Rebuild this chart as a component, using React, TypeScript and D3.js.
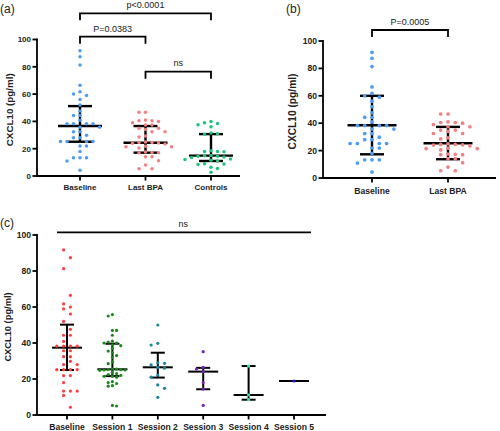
import React from "react";
import * as d3 from "d3";

// ---------- data (CXCL10, pg/ml) ----------
const baselineValues = [91.7, 87.4, 81.3, 66.5, 61.7, 60, 59, 56.1, 52, 47.6, 44.3, 44.3, 40.9, 38.3, 38.3, 38.3, 38.3, 35.7, 35.7, 32.4, 32.4, 29.8, 28, 28, 25.2, 25.2, 25.2, 25.2, 21.9, 21.9, 18, 13.3, 13.3, 13.3, 10.9, 4.3];
const lastBpaValues = [46.7, 46.7, 41, 40.5, 40.5, 40, 39, 37.4, 37.4, 35, 35, 34, 32.5, 32.5, 29.3, 28.5, 25, 24.5, 24.5, 24.2, 24, 23.5, 21.8, 21.5, 21.5, 20.5, 17.5, 17.3, 17, 17, 14.1, 14.1, 11.2, 8, 5.3, 5.3];
const controlsValues = [40, 39, 38.5, 37.5, 36, 31.5, 31, 30.5, 18.5, 18, 18, 17.8, 15, 14.8, 14.5, 14.5, 14, 13.5, 12.5, 12, 11.5, 11, 9, 8.8, 8.5, 6.5, 5.5, 2.8];
const session1Values = [55.8, 55, 47, 47, 44.3, 41, 40.5, 40, 40, 39, 38.5, 37, 35.5, 34.5, 33, 32, 29.5, 28.5, 25.5, 25.5, 25.3, 25.2, 25, 25, 24.8, 23.5, 23, 22.5, 22, 21.5, 21.5, 21, 18.5, 18, 17.5, 16.3, 16, 5.3, 5];
const session2Values = [50, 39.8, 38.9, 29, 28.7, 27.8, 26.5, 26, 22.2, 21, 16.7, 14.8, 9.8];
const session3Values = [35.2, 26.5, 25.5, 24.1, 18, 14.4, 5.3];
const session4Values = [27.2, 11.1, 8.5];
const session5Values = [18.9];

// categories
const catsA = ["Baseline", "Last BPA", "Controls"];
const catsB = ["Baseline", "Last BPA"];
const catsC = ["Baseline", "Session 1", "Session 2", "Session 3", "Session 4", "Session 5"];

// summary statistics
const medianA = [36.6, 24.4, 14.9];
const q1A = [25.1, 17.1, 11];
const q3A = [51.2, 36.6, 30.7];
const meanB = [38.5, 25.4];
const lowerB = [17.3, 13.7];
const upperB = [60, 37.3];
const medianC = [37.4, 25.4, 26.5, 24.1, 11.1, 18.9];
const q1C = [25, 21.6, 20.8, 14.3, 8.5, 18.9];
const q3C = [50.2, 39.6, 34.6, 26.2, 27.2, 18.9];

const yTicks = [0, 20, 40, 60, 80, 100];
const yLabel = "CXCL10 (pg/ml)";

// colours
const colA = ["#4b9cf6", "#f47f80", "#1fc37d"];
const colC = ["#ff3b3b", "#1b8a1b", "#1686a5", "#7d22b8", "#34e6a8", "#1c1ce6"];

const FONT = "'Liberation Sans', Arial, sans-serif";

type Swarm = { v: number; x: number; y: number };

function swarm(values: number[], y: (v: number) => number, dx: number, dy: number, even: boolean): Swarm[] {
  const pts = values.map((v) => ({ v, y: y(v), x: 0, slot: 0 })).sort((a, b) => a.y - b.y);
  const placed: { y: number; slot: number }[] = [];
  const order: number[] = even ? [-0.5, 0.5, -1.5, 1.5, -2.5, 2.5, -3.5, 3.5, -4.5, 4.5] : [0, -1, 1, -2, 2, -3, 3, -4, 4, -5, 5];
  let flip = false;
  for (const p of pts) {
    let chosen = order[order.length - 1];
    for (let i = 0; i < order.length; i++) {
      let s = order[i];
      if (s !== 0 && i % 2 === 1 && flip) s = -s;
      else if (s !== 0 && i % 2 === 0 && flip && even) s = -s;
      const free = placed.every((q) => q.slot !== s || Math.abs(q.y - p.y) >= dy);
      if (free) { chosen = s; break; }
    }
    if (chosen !== 0) flip = !flip;
    placed.push({ y: p.y, slot: chosen });
    p.x = chosen * dx;
  }
  return pts.map((p) => ({ v: p.v, x: p.x, y: p.y }));
}

type PanelProps = {
  cats: string[];
  groups: number[][];
  colors: string[];
  center: number[];
  lo: number[];
  hi: number[];
  xRange: [number, number];
  axisX: [number, number];
  yRange: [number, number];
  tickFont: number;
  labelFont: number;
  labelX: number;
  r: number;
  medHalf: number;
  capHalf: number;
  barWidth: number;
  swarmDx: number[];
  swarmDy: number[];
  swarmEven: boolean[];
  xLabelBaseline: number;
};

function Panel(p: PanelProps) {
  const x = d3.scalePoint<string>().domain(p.cats).range(p.xRange).padding(0);
  const y = d3.scaleLinear().domain([0, 100]).range(p.yRange);
  const x0 = p.axisX[0];
  const yTop = y(100);
  const yBot = y(0);
  return (
    <g>
      {/* error bars */}
      {p.cats.map((c, i) => {
        const cx = x(c) as number;
        const single = p.lo[i] === p.hi[i];
        return (
          <g key={c} stroke="#000" strokeWidth={p.barWidth} fill="none">
            <line x1={cx - p.medHalf} x2={cx + p.medHalf} y1={y(p.center[i])} y2={y(p.center[i])} />
            {!single && (
              <>
                <line x1={cx} x2={cx} y1={y(p.lo[i])} y2={y(p.hi[i])} />
                <line x1={cx - p.capHalf} x2={cx + p.capHalf} y1={y(p.lo[i])} y2={y(p.lo[i])} />
                <line x1={cx - p.capHalf} x2={cx + p.capHalf} y1={y(p.hi[i])} y2={y(p.hi[i])} />
              </>
            )}
          </g>
        );
      })}
      {/* points */}
      {p.groups.map((vals, gi) => {
        const cx = x(p.cats[gi]) as number;
        const pts = swarm(vals, y, p.swarmDx[gi], p.swarmDy[gi], p.swarmEven[gi]);
        return pts.map((pt, i) => (
          <circle key={`${gi}-${i}`} cx={cx + pt.x} cy={pt.y} r={p.r} fill={p.colors[gi]} />
        ));
      })}
      {/* axes */}
      <g stroke="#000" strokeWidth={1.8} fill="none">
        <line x1={x0} x2={x0} y1={yTop - 0.9} y2={yBot} />
        <line x1={x0 - 0.9} x2={p.axisX[1]} y1={yBot} y2={yBot} />
        {yTicks.map((t) => (
          <line key={t} x1={x0 - 4.5} x2={x0} y1={y(t)} y2={y(t)} />
        ))}
        {p.cats.map((c) => (
          <line key={c} x1={x(c) as number} x2={x(c) as number} y1={yBot} y2={yBot + 4.5} />
        ))}
      </g>
      <g fontFamily={FONT} fontWeight="bold" fontSize={p.tickFont} fill="#222">
        {yTicks.map((t) => (
          <text key={t} x={x0 - 6} y={y(t)} dy="0.35em" textAnchor="end">{t}</text>
        ))}
        {p.cats.map((c) => (
          <text key={c} x={x(c) as number} y={p.xLabelBaseline} textAnchor="middle">{c}</text>
        ))}
      </g>
      <text
        fontFamily={FONT}
        fontWeight="bold"
        fontSize={p.labelFont}
        fill="#222"
        textAnchor="middle"
        transform={`translate(${p.labelX},${(yTop + yBot) / 2 + 2}) rotate(-90)`}
        dy="0.35em"
      >
        {yLabel}
      </text>
    </g>
  );
}

function Bracket({ x1, x2, y, leg, label, ty }: { x1: number; x2: number; y: number; leg: number; label: string; ty: number }) {
  return (
    <g>
      <path d={`M${x1},${y + leg}V${y}H${x2}V${y + leg}`} stroke="#000" strokeWidth={1.8} fill="none" />
      <text x={(x1 + x2) / 2} y={ty} textAnchor="middle" fontFamily={FONT} fontSize={9} fill="#222">{label}</text>
    </g>
  );
}

export default function App() {
  const xa = d3.scalePoint<string>().domain(catsA).range([80, 211]).padding(0);
  const xb = d3.scalePoint<string>().domain(catsB).range([372, 448]).padding(0);
  const xc = d3.scalePoint<string>().domain(catsC).range([67, 294]).padding(0);
  return (
    <svg width={500} height={431} style={{ position: "absolute", left: 0, top: 0, background: "#fff" }}>
      <rect width={500} height={431} fill="#fff" />
      {/* panel labels */}
      <g fontFamily={FONT} fontSize={12} fill="#222">
        <text x={0} y={13}>(a)</text>
        <text x={286} y={13}>(b)</text>
        <text x={0} y={227}>(c)</text>
      </g>

      {/* (a) */}
      <Panel
        cats={catsA}
        groups={[baselineValues, lastBpaValues, controlsValues]}
        colors={colA}
        center={medianA}
        lo={q1A}
        hi={q3A}
        xRange={[80, 211]}
        axisX={[37, 240]}
        yRange={[176, 39.5]}
        tickFont={8}
        labelFont={9.8}
        labelX={10}
        r={1.75}
        medHalf={22}
        capHalf={12}
        barWidth={2.4}
        swarmDx={[6.5, 6.5, 6.5]}
        swarmDy={[4.2, 4.2, 4.2]}
        swarmEven={[false, false, false]}
        xLabelBaseline={190}
      />
      <Bracket x1={xa("Baseline") as number} x2={xa("Controls") as number} y={13.3} leg={7} label="p<0.0001" ty={8} />
      <Bracket x1={xa("Baseline") as number} x2={xa("Last BPA") as number} y={36.7} leg={7} label="P=0.0383" ty={31.5} />
      <Bracket x1={xa("Last BPA") as number} x2={xa("Controls") as number} y={71.7} leg={7} label="ns" ty={65.5} />

      {/* (b) */}
      <Panel
        cats={catsB}
        groups={[baselineValues, lastBpaValues]}
        colors={colA}
        center={meanB}
        lo={lowerB}
        hi={upperB}
        xRange={[372, 448]}
        axisX={[323, 496]}
        yRange={[178, 41]}
        tickFont={8.6}
        labelFont={10.2}
        labelX={292}
        r={1.85}
        medHalf={24.5}
        capHalf={12}
        barWidth={2.4}
        swarmDx={[7.3, 7.3]}
        swarmDy={[4.3, 4.3]}
        swarmEven={[false, false]}
        xLabelBaseline={193.5}
      />
      <Bracket x1={xb("Baseline") as number} x2={xb("Last BPA") as number} y={30} leg={7} label="P=0.0005" ty={25} />

      {/* (c) */}
      <Panel
        cats={catsC}
        groups={[baselineValues, session1Values, session2Values, session3Values, session4Values, session5Values]}
        colors={colC}
        center={medianC}
        lo={q1C}
        hi={q3C}
        xRange={[67, 294]}
        axisX={[37, 326]}
        yRange={[415, 235]}
        tickFont={8.6}
        labelFont={9.3}
        labelX={7.5}
        r={1.6}
        medHalf={15}
        capHalf={7}
        barWidth={2}
        swarmDx={[6.8, 4.2, 6.7, 6.7, 6.7, 6.7]}
        swarmDy={[3.8, 3.3, 3.8, 3.8, 3.8, 3.8]}
        swarmEven={[true, false, false, false, false, false]}
        xLabelBaseline={429.5}
      />
      <line x1={57} x2={311} y1={232.3} y2={232.3} stroke="#000" strokeWidth={1.8} />
      <text x={xc("Session 3") as number - 20} y={226.5} textAnchor="middle" fontFamily={FONT} fontSize={9} fill="#222">ns</text>
    </svg>
  );
}
